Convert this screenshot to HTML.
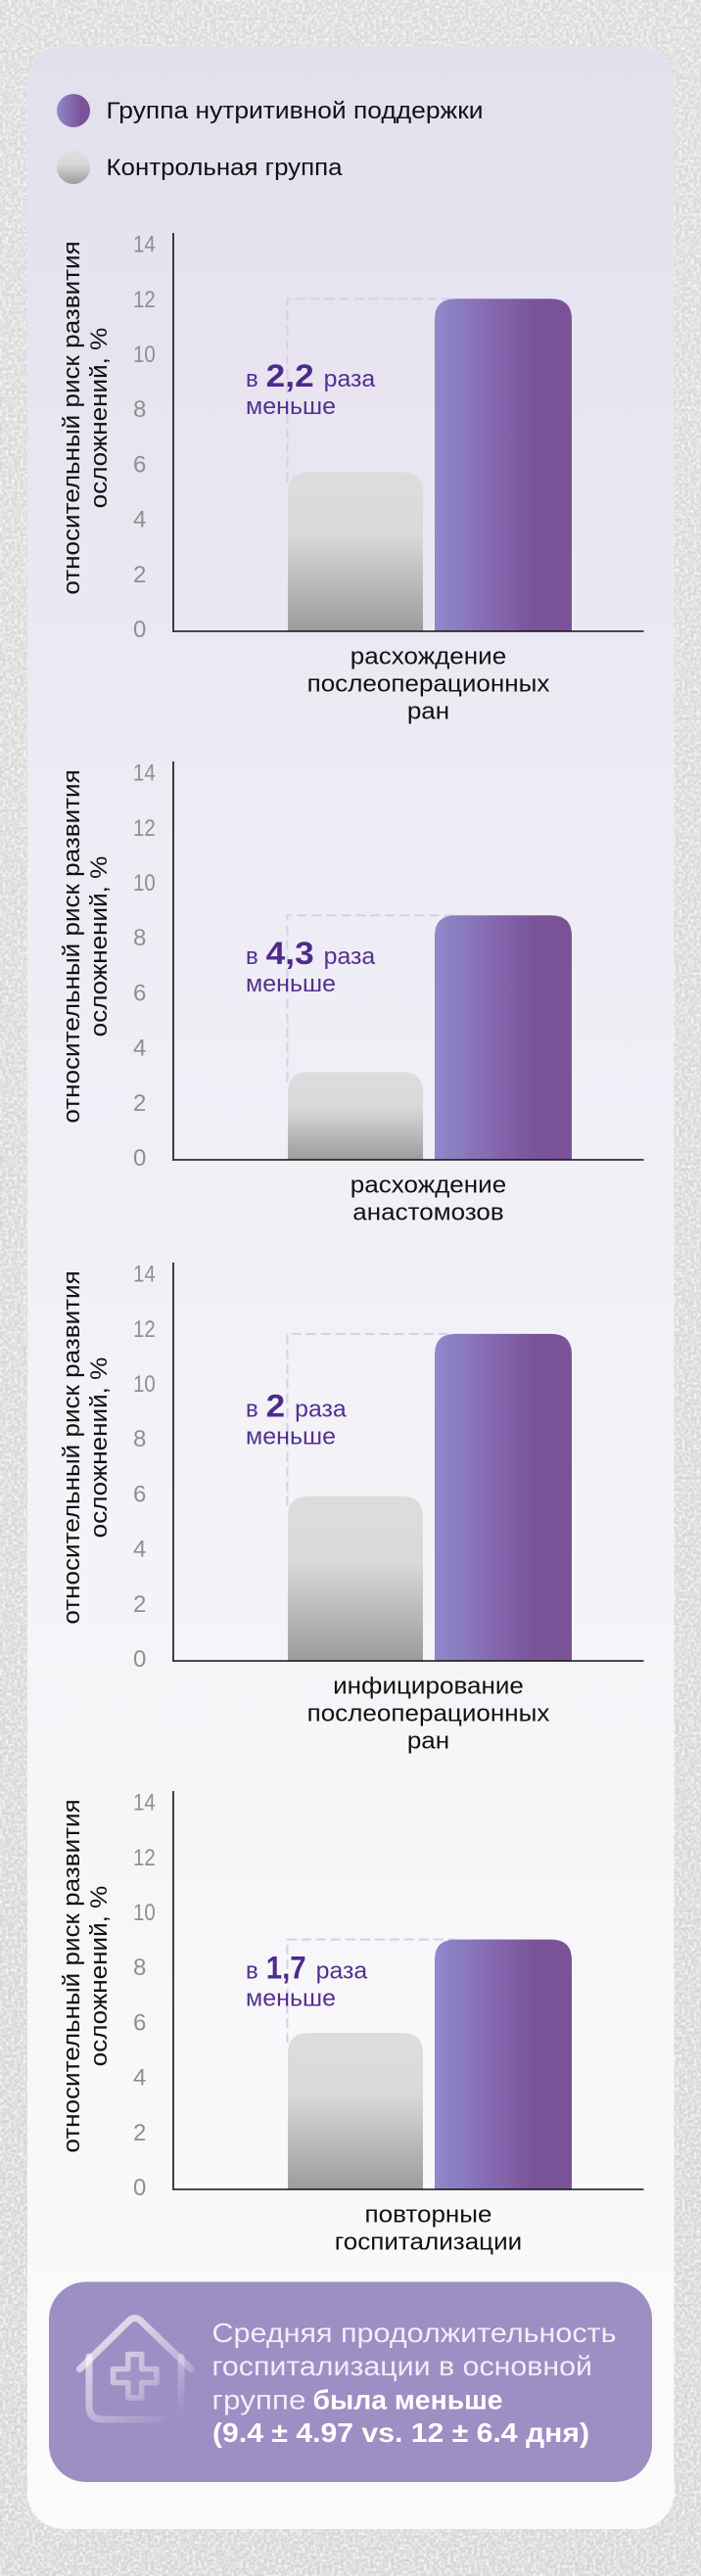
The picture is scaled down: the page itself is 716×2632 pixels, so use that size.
<!DOCTYPE html>
<html lang="ru">
<head>
<meta charset="utf-8">
<title>Относительный риск развития осложнений</title>
<style>
html,body{margin:0;padding:0;width:716px;height:2632px;overflow:hidden;background:#dadada}
svg{display:block;font-family:"Liberation Sans","DejaVu Sans",sans-serif}
</style>
</head>
<body>
<svg id="page" xmlns="http://www.w3.org/2000/svg" width="716" height="2632" viewBox="0 0 716 2632">
  <defs>
    <filter id="noise" x="0" y="0" width="100%" height="100%">
      <feTurbulence type="fractalNoise" baseFrequency="0.33" numOctaves="1" seed="4"/>
      <feColorMatrix type="matrix" values="0 0 0 0 1  0 0 0 0 1  0 0 0 0 1  2.4 0 0 0 -0.9"/>
    </filter>
    <linearGradient id="bgGrad" x1="0" y1="0" x2="0" y2="1">
      <stop offset="0" stop-color="#dadada"/>
      <stop offset="1" stop-color="#d6d6d8"/>
    </linearGradient>
    <linearGradient id="cardGrad" x1="0" y1="0" x2="0" y2="1">
      <stop offset="0" stop-color="#e3e0ee"/>
      <stop offset="0.3" stop-color="#edebf4"/>
      <stop offset="0.7" stop-color="#f6f6f9"/>
      <stop offset="1" stop-color="#fbfbfb"/>
    </linearGradient>
    <linearGradient id="purpleGrad" x1="0" y1="0" x2="1" y2="0">
      <stop offset="0" stop-color="#8f89cb"/>
      <stop offset="0.42" stop-color="#8569b0"/>
      <stop offset="0.72" stop-color="#7a5499"/>
      <stop offset="1" stop-color="#7a5298"/>
    </linearGradient>
    <linearGradient id="grayGrad" x1="0" y1="0" x2="0" y2="1">
      <stop offset="0" stop-color="#dddddd"/>
      <stop offset="0.4" stop-color="#d9d9d9"/>
      <stop offset="1" stop-color="#9c9c9c"/>
    </linearGradient>
    <linearGradient id="houseGrad" gradientUnits="userSpaceOnUse" x1="100" y1="2370" x2="175" y2="2475">
      <stop offset="0" stop-color="#ffffff" stop-opacity="0.75"/>
      <stop offset="0.55" stop-color="#ffffff" stop-opacity="0.4"/>
      <stop offset="1" stop-color="#ffffff" stop-opacity="0"/>
    </linearGradient>
  </defs>

  <rect x="0" y="0" width="716" height="2632" fill="url(#bgGrad)"/>
  <rect x="0" y="0" width="716" height="2632" filter="url(#noise)" opacity="0.8"/>
  <rect x="28" y="47" width="660.5" height="2537" rx="37" ry="37" fill="url(#cardGrad)"/>

  <g>
    <circle cx="75" cy="113" r="17" fill="url(#purpleGrad)"/>
    <text x="108.5" y="121" font-size="24" fill="#111" textLength="385" lengthAdjust="spacingAndGlyphs">Группа нутритивной поддержки</text>
    <circle cx="75" cy="171" r="17" fill="url(#grayGrad)"/>
    <text x="108.5" y="179" font-size="24" fill="#111" textLength="241" lengthAdjust="spacingAndGlyphs">Контрольная группа</text>
  </g>

  <g id="charts"></g>

  <g>
    <rect x="50" y="2331.5" width="616" height="204.5" rx="38" ry="38" fill="#9d8ec3"/>
    <g fill="none" stroke="url(#houseGrad)" stroke-linecap="round" stroke-linejoin="round">
      <path stroke-width="7" d="M81.5 2420.5 L132 2371 Q137.7 2366 143.5 2371 L195 2420.5"/>
      <path stroke-width="7" d="M91 2408 V2458 Q91 2472 105 2472 H171 Q185 2472 185 2458 V2408"/>
      <path stroke-width="5.5" fill="#ffffff" fill-opacity="0.06" d="M130.8 2405.5 H144.8 V2420.5 H160 V2434.5 H144.8 V2450 H130.8 V2434.5 H115.5 V2420.5 H130.8 Z"/>
    </g>
    <text x="216.5" y="2393" font-size="28" fill="#f1eef8" textLength="413" lengthAdjust="spacingAndGlyphs">Средняя продолжительность</text>
    <text x="216.5" y="2427" font-size="28" fill="#f1eef8" textLength="388.5" lengthAdjust="spacingAndGlyphs">госпитализации в основной</text>
    <text x="216.5" y="2461.5" font-size="28" fill="#f1eef8" textLength="96" lengthAdjust="spacingAndGlyphs">группе</text>
    <text x="319.5" y="2461.5" font-size="28" font-weight="700" fill="#ffffff" textLength="194" lengthAdjust="spacingAndGlyphs">была меньше</text>
    <text x="217" y="2495" font-size="28" font-weight="700" fill="#ffffff" textLength="385" lengthAdjust="spacingAndGlyphs">(9.4 ± 4.97 vs. 12 ± 6.4 дня)</text>
  </g>
</svg>

<script>
// ---- chart data ----
const categories = [
  ["расхождение", "послеоперационных", "ран"],
  ["расхождение", "анастомозов"],
  ["инфицирование", "послеоперационных", "ран"],
  ["повторные", "госпитализации"]
];
const controlValues = [5.7, 3.1, 5.9, 5.6];
const supportValues = [12, 8.8, 11.8, 9.0];
const ratioLabels = ["2,2", "4,3", "2", "1,7"];
const calloutLevels = [8.8, 7.03, 8.79, 7.58];
const tickLabels = [0, 2, 4, 6, 8, 10, 12, 14];
const axisTitle = ["относительный риск развития", "осложнений, %"];

// ---- layout ----
const NS = "http://www.w3.org/2000/svg";
const firstBaseline = 645;
const plotHeight = 407;
const unitPx = 28.1;
const zeroOffset = 2.5;
const axisX = 177;
const axisEnd = 657.5;
const controlLeft = 294;
const controlWidth = 138;
const supportLeft = 444;
const supportWidth = 140;
const labelCenter = 437.5;
const textWiden = 1.085;
const root = document.getElementById("charts");

function make(tag, attrs, parent) {
  const el = document.createElementNS(NS, tag);
  for (const k in attrs) el.setAttribute(k, attrs[k]);
  parent.appendChild(el);
  return el;
}
function widen(el, factor) {
  const len = el.getComputedTextLength();
  el.setAttribute("textLength", (len * factor).toFixed(1));
  el.setAttribute("lengthAdjust", "spacingAndGlyphs");
}
function boldRatioWidth(label) {
  let w = 0;
  for (const ch of label) {
    w += ch === "1" ? 11.5 : ch === "," ? 10 : 19.5;
  }
  return w;
}
function topRoundedBar(x, w, top, base, r) {
  const rr = Math.min(r, (base - top));
  return "M" + x + " " + base + " V" + (top + rr) +
    " Q" + x + " " + top + " " + (x + rr) + " " + top +
    " H" + (x + w - rr) +
    " Q" + (x + w) + " " + top + " " + (x + w) + " " + (top + rr) +
    " V" + base + " Z";
}

let baseline = firstBaseline;
categories.forEach(function (lines, i) {
  const yScale = function (v) { return baseline - zeroOffset - v * unitPx; };
  const base = baseline;

  const g = make("g", {}, root);
  
  

  // y-axis title
  const titleCenter = base - 218;
  axisTitle.forEach(function (line, j) {
    const tx = 81 + j * 28;
    const t = make("text", {
      x: tx, y: titleCenter, "text-anchor": "middle", "font-size": 24, fill: "#111",
      transform: "rotate(-90 " + tx + " " + titleCenter + ")"
    }, g);
    
    
    t.textContent = line;
    widen(t, textWiden);
  });

  // tick labels
  tickLabels.forEach(function (tick) {
    const t = make("text", {
      x: 136, y: yScale(tick) + 8.5, "font-size": 24, fill: "#8f8f8f"
    }, g);
    
    
    t.textContent = tick;
    if (tick >= 10) widen(t, 0.85);
  });

  // dashed guide from the shorter bar to the taller one
  const guide = make("path", {
    d: "M" + (controlLeft - 0.5) + " " + (yScale(controlValues[i]) + 10) +
       " V" + yScale(supportValues[i]) + " H" + (supportLeft + 20),
    fill: "none", stroke: "#d5d0e9", "stroke-width": 2, "stroke-dasharray": "10 5"
  }, g);
  
  

  // bars
  const controlBar = make("path", {
    d: topRoundedBar(controlLeft, controlWidth, yScale(controlValues[i]), base, 21),
    fill: "url(#grayGrad)"
  }, g);
  
  

  const supportBar = make("path", {
    d: topRoundedBar(supportLeft, supportWidth, yScale(supportValues[i]), base, 21),
    fill: "url(#purpleGrad)"
  }, g);
  
  

  // axes
  const yAxis = make("line", {
    x1: axisX, y1: base - plotHeight, x2: axisX, y2: base + 1, stroke: "#111", "stroke-width": 1.6
  }, g);
  
  

  const xAxis = make("line", {
    x1: axisX + 1, y1: base, x2: axisEnd, y2: base, stroke: "#111", "stroke-width": 1.4
  }, g);
  
  

  // callout
  const calloutY = yScale(calloutLevels[i]);
  const cPrefix = make("text", { x: 251, y: calloutY, "font-size": 24, fill: "#54308f" }, g);
  
  
  cPrefix.textContent = "в";

  const boldWidth = boldRatioWidth(ratioLabels[i]);
  const cValue = make("text", {
    x: 271.7, y: calloutY, "font-size": 32, "font-weight": 700, fill: "#4f2a8c",
    textLength: boldWidth, lengthAdjust: "spacingAndGlyphs"
  }, g);
  
  
  cValue.textContent = ratioLabels[i];

  const cSuffix = make("text", {
    x: 271.7 + boldWidth + 10, y: calloutY, "font-size": 24, fill: "#54308f",
    textLength: 52.5, lengthAdjust: "spacingAndGlyphs"
  }, g);
  
  
  cSuffix.textContent = "раза";

  const cSecond = make("text", {
    x: 251, y: calloutY + 28, "font-size": 24, fill: "#54308f",
    textLength: 92, lengthAdjust: "spacingAndGlyphs"
  }, g);
  
  
  cSecond.textContent = "меньше";

  // category label
  lines.forEach(function (line, j) {
    const t = make("text", {
      x: labelCenter, y: base + 33.5 + j * 28, "text-anchor": "middle", "font-size": 24, fill: "#111"
    }, g);
    
    
    t.textContent = line;
    widen(t, textWiden);
  });

  baseline += plotHeight + 49 + lines.length * 28;
});
</script>
</body>
</html>
